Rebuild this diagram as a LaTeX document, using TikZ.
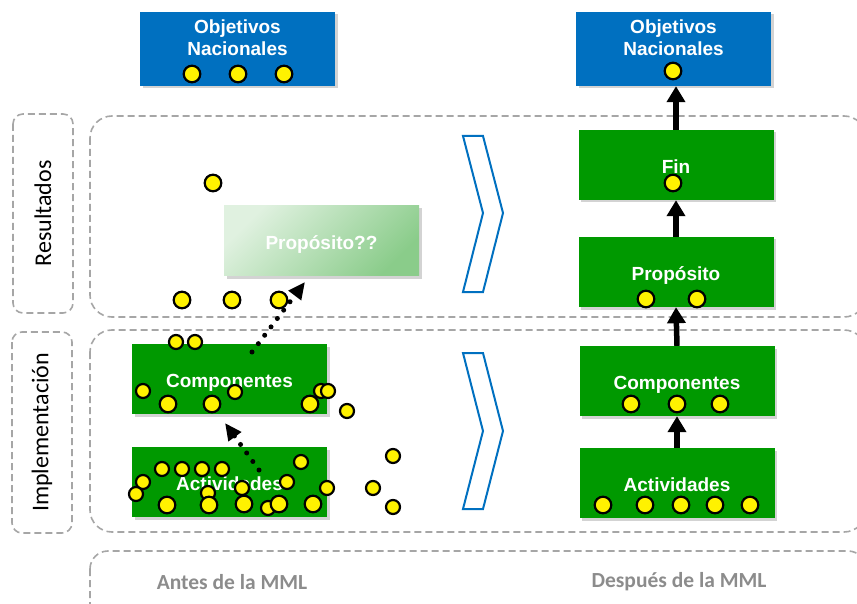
\documentclass[tikz,border=0pt]{standalone}
\usepackage{fontspec}
\setmainfont{Liberation Sans}
\newfontfamily\calib{Carlito}
\usetikzlibrary{arrows.meta, shadows}
\definecolor{mmlgreen}{RGB}{0,153,0}
\definecolor{mmlblue}{RGB}{0,112,192}
\definecolor{dashgray}{RGB}{166,166,166}
\definecolor{txtgray}{RGB}{140,140,140}
\definecolor{fadeA}{RGB}{224,241,224}
\definecolor{fadeB}{RGB}{138,204,138}
\tikzset{>=Stealth}

\begin{document}
\begin{tikzpicture}[x=1pt, y=-1pt,
  box/.style={minimum width=195pt, minimum height=70pt, inner sep=0pt, text=white, align=center,
    font=\fontsize{19}{22}\selectfont\bfseries,
    drop shadow={shadow xshift=2.5pt, shadow yshift=-2.5pt, opacity=0.35}},
  gbox/.style={box, fill=mmlgreen, text height=17pt, text depth=0pt},
  bbox/.style={box, fill=mmlblue, minimum height=74pt},
  dashbox/.style={draw=dashgray, line width=1.6pt, dash pattern=on 7pt off 4pt},
  side/.style={dashbox, rounded corners=10pt, rotate=90, minimum height=60pt,
    font=\calib\fontsize{24}{28}\selectfont},
  foot/.style={text=txtgray, font=\calib\bfseries\fontsize{21.5}{24}\selectfont},
  chev/.style={draw=mmlblue, line width=2pt, line join=miter},
  yel/.style={draw=black, fill=yellow, line width=2.2pt},
  up/.style={-{Triangle[width=18pt,length=16pt]}, line width=5.5pt},
  dots/.style={line width=5pt, line cap=round, dash pattern=on 0pt off 10.5pt,
    -{Triangle[width=15pt,length=17pt]}}
]
\clip (0,0) rectangle (857,604);

% frames
\node[side, minimum width=199pt] (R) at (43,213.5) {Resultados};
\node[side, minimum width=201pt] (I) at (42,432.5) {Implementación};
\draw[dashbox, rounded corners=22pt] (90,116) rectangle (866,317);
\draw[dashbox, rounded corners=22pt] (90,330) rectangle (866,532);
\draw[dashbox, rounded corners=18pt] (90,551) rectangle (866,630);
\node[foot] (T1) at (232,582) {Antes de la MML};
\node[foot] (T2) at (679,582) {Después de la MML};

% chevrons
\draw[chev] (463,136) -- (483,136) -- (503,213) -- (483,292) -- (463,292) -- (483,213) -- cycle;
\draw[chev] (463,353) -- (483,353) -- (503,431) -- (483,509) -- (463,509) -- (483,431) -- cycle;

% before
\node[bbox] (ON1) at (237.5,49) {Objetivos\\Nacionales\\\rule{0pt}{14pt}};
\node[box, top color=fadeA, bottom color=fadeB, shading angle=45,
  text height=17pt, text depth=0pt] (P1) at (321.5,241) {Propósito??};
\node[gbox] (C1) at (229.5,379) {Componentes};
\node[gbox] (A1) at (229.5,482) {Actividades};

% after
\node[bbox] (ON2) at (673.5,49) {Objetivos\\Nacionales\\\rule{0pt}{14pt}};
\node[gbox] (F) at (676,165) {Fin};
\node[gbox] (P2) at (676,272) {Propósito};
\node[gbox] (C2) at (677,381) {Componentes};
\node[gbox] (A2) at (677,483) {Actividades};

\draw[up] (F.north) -- (F.north |- ON2.south);
\draw[up] (P2.north) -- (F.south);
\draw[up] (C2.north) -- (P2.south);
\draw[up] (A2.north) -- (C2.south);

% yellow dots
\foreach \x/\y in {143/391, 321/391, 328/391, 176/342, 195/342, 235/392, 347/411,
  162/469, 182/469, 202/469, 222/469, 301/462, 143/482, 136/494, 208/493, 242/488,
  287/482, 327/488, 373/488, 393/456, 393/507, 268/508}
  \draw[yel] (\x,\y) circle (7pt);
\foreach \x/\y in {192/74, 238/74, 284/74, 213/183, 182/300, 232/300, 279/300,
  168/404, 212/404, 310/404, 167/505, 209/505, 244/504, 279/504, 313/504,
  673/71, 673/183, 646/299, 697/299, 631/404, 677/404, 720/404,
  603/505, 645/505, 681/505, 715/505, 750/505}
  \draw[yel] (\x,\y) circle (8.3pt);

% dotted links
\coordinate (d1) at (252,352);
\coordinate (d2) at (305,282);
\coordinate (d3) at (259,470);
\coordinate (d4) at (225,423);
\draw[dots] (d1) -- (d2);
\draw[dots] (d3) -- (d4);

\end{tikzpicture}
\end{document}
